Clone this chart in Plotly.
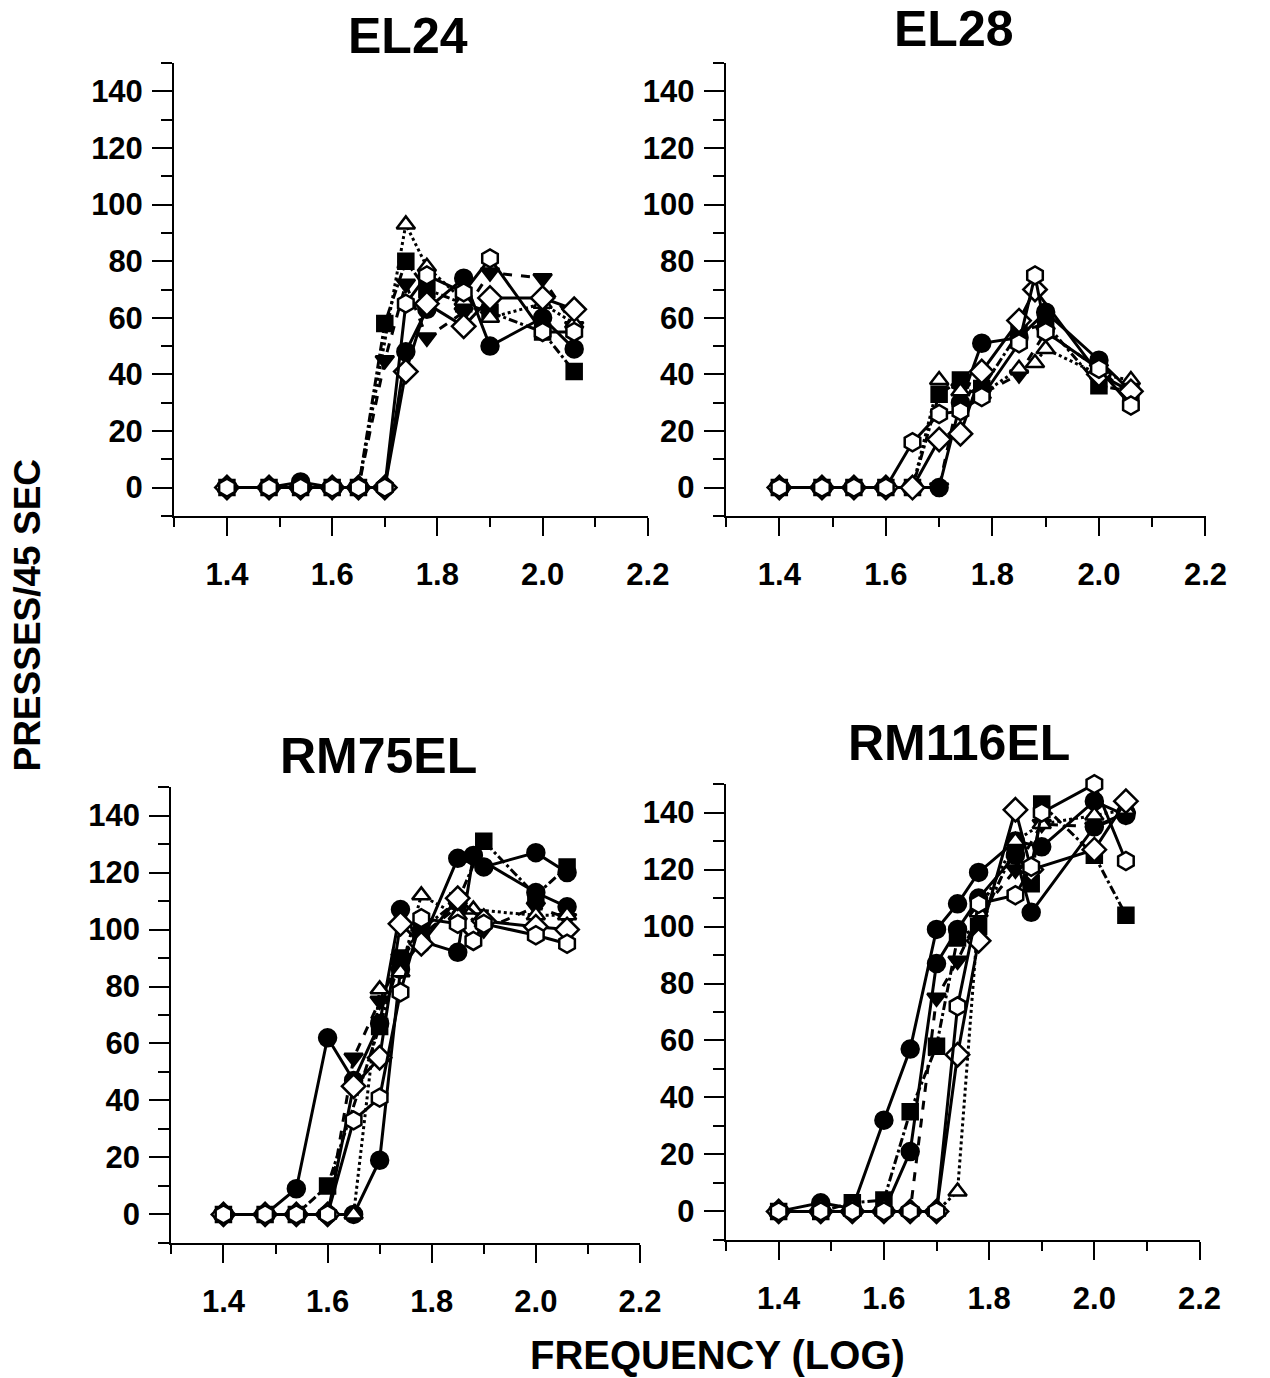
import plotly.graph_objects as go

# ---------------- data ----------------
FREQ_LOG = [1.40, 1.48, 1.54, 1.60, 1.65, 1.70, 1.74, 1.78, 1.85, 1.88, 1.90, 2.00, 2.06]

PANEL_TITLES = ["EL24", "EL28", "RM75EL", "RM116EL"]

# EL24
EL24_circle  = [0, 0, 2, 0, 0, 0, 48, 63, 74, None, 50, 60, 49]
EL24_square  = [0, 0, 0, 0, 0, 58, 80, 70, 65, None, 62, 55, 41]
EL24_tridown = [0, 0, 0, 0, 0, 45, 72, 53, 62, None, 76, 74, 57]
EL24_triup   = [0, 0, 0, 0, 0, None, 93, 78, 66, None, 60, 65, 58]
EL24_diamond = [0, 0, 0, 0, 0, 0, 41, 65, 57, None, 67, 67, 63]
EL24_hexagon = [0, 0, 0, 0, 0, 0, 65, 75, 69, None, 81, 55, 55]

# EL28
EL28_circle  = [0, 0, 0, 0, 0, 0, 30, 51, 53, None, 62, 45, 34]
EL28_square  = [0, 0, 0, 0, 0, 33, 38, 35, 55, None, 58, 36, 34]
EL28_tridown = [0, 0, 0, 0, 0, 0, 35, 33, 40, None, 55, 42, 32]
EL28_triup   = [0, 0, 0, 0, 0, 38, 34, 33, 42, 44, 49, 40, 38]
EL28_diamond = [0, 0, 0, 0, 0, 17, 19, 41, 59, 70, None, 40, 34]
EL28_hexagon = [0, 0, 0, 0, 16, 26, 27, 32, 51, 75, 55, 42, 29]

# RM75EL
RM75_circle  = [0, 0, 9, 62, 47, 67, 107, 95, 125, None, 122, 127, 120]
RM75_circle2 = [0, 0, 0, 0, 0, 19, 86, 96, 92, 126, None, 113, 108]
RM75_square  = [0, 0, 0, 10, None, 66, 90, 100, 110, None, 131, 112, 122]
RM75_tridown = [0, 0, 0, 0, 55, 75, 90, 98, 108, None, 100, 108, 104]
RM75_triup   = [0, 0, 0, 0, 0, 79, 85, 112, 105, 107, None, 105, 105]
RM75_diamond = [0, 0, 0, 0, 45, 55, 102, 95, 111, None, 103, 101, 100]
RM75_hexagon = [0, 0, 0, 0, 33, 41, 78, 104, 102, 96, 102, 98, 95]

# RM116EL
RM116_circle  = [0, 3, 1, 32, 57, 99, 108, 119, 130, None, 128, 144, 139]
RM116_circle2 = [0, 0, 0, 0, 21, 87, 99, 110, 125, 105, None, 135, 140]
RM116_square  = [0, 0, 3, 4, 35, 58, 96, 100, 128, 115, 143, 125, 104]
RM116_tridown = [0, 0, 0, 0, 0, 75, 88, 104, 120, None, 136, 135, 139]
RM116_triup   = [0, 0, 0, 0, 0, 0, 7, 105, 130, None, 136, 139, 141]
RM116_diamond = [0, 0, 0, 0, 0, 0, 55, 95, 141, 120, None, 127, 144]
RM116_hexagon = [0, 0, 0, 0, 0, 0, 72, 108, 111, 121, 140, 150, 123]

Y_TICKS = [0, 20, 40, 60, 80, 100, 120, 140]
X_TICKS = [1.4, 1.6, 1.8, 2.0, 2.2]

# ---------------- styles ----------------
STYLES = {
    "circle":  dict(symbol="circle", fill="black", dash="solid", size=17),
    "circle2": dict(symbol="circle", fill="black", dash="solid", size=17),
    "square":  dict(symbol="square", fill="black", dash="dashdot", size=15),
    "tridown": dict(symbol="triangle-down", fill="black", dash="dash", size=16),
    "triup":   dict(symbol="triangle-up", fill="white", dash="dot", size=16),
    "diamond": dict(symbol="diamond", fill="white", dash="solid", size=18),
    "hexagon": dict(symbol="hexagon", fill="white", dash="solid", size=18),
}

PANELS = [
    [("circle", EL24_circle), ("square", EL24_square), ("tridown", EL24_tridown),
     ("triup", EL24_triup), ("diamond", EL24_diamond), ("hexagon", EL24_hexagon)],
    [("circle", EL28_circle), ("square", EL28_square), ("tridown", EL28_tridown),
     ("triup", EL28_triup), ("diamond", EL28_diamond), ("hexagon", EL28_hexagon)],
    [("circle", RM75_circle), ("circle2", RM75_circle2), ("square", RM75_square),
     ("tridown", RM75_tridown), ("triup", RM75_triup), ("diamond", RM75_diamond),
     ("hexagon", RM75_hexagon)],
    [("circle", RM116_circle), ("circle2", RM116_circle2), ("square", RM116_square),
     ("tridown", RM116_tridown), ("triup", RM116_triup), ("diamond", RM116_diamond),
     ("hexagon", RM116_hexagon)],
]

W, H = 1270, 1378
# plot area boxes in pixels: (left, right, top, bottom)
BOXES = [(177, 659, 63, 516), (738, 1226, 63, 516),
         (174, 651, 787, 1243), (738, 1220, 784, 1240)]
TITLE_POS = [(415, 36), (970, 29), (385, 756), (975, 743)]

FONT = "Liberation Sans, Arial, sans-serif"

fig = go.Figure()
for i, series in enumerate(PANELS):
    xa = "x" if i == 0 else f"x{i+1}"
    ya = "y" if i == 0 else f"y{i+1}"
    for key, vals in series:
        st = STYLES[key]
        fig.add_trace(go.Scatter(
            x=FREQ_LOG, y=vals, xaxis=xa, yaxis=ya, mode="lines+markers",
            connectgaps=True, showlegend=False, cliponaxis=False,
            line=dict(color="black", width=3, dash=st["dash"]),
            marker=dict(symbol=st["symbol"], size=st["size"], color=st["fill"],
                        line=dict(color="black", width=2.5)),
        ))

layout = dict(width=W, height=H, margin=dict(l=0, r=0, t=0, b=0),
              paper_bgcolor="white", plot_bgcolor="white", showlegend=False)

tickfont = dict(family=FONT, size=31, color="black", weight="bold")
for i, (l, r, t, b) in enumerate(BOXES):
    xn = "xaxis" if i == 0 else f"xaxis{i+1}"
    yn = "yaxis" if i == 0 else f"yaxis{i+1}"
    xa = "x" if i == 0 else f"x{i+1}"
    ya = "y" if i == 0 else f"y{i+1}"
    layout[xn] = dict(
        domain=[l / W, r / W], anchor=ya, range=[1.2995, 2.2005],
        tickmode="array", tickvals=X_TICKS, ticktext=[f"{v:.1f}" for v in X_TICKS],
        ticks="outside", ticklen=18, tickwidth=2, tickcolor="black",
        showline=True, linewidth=2, linecolor="black", showgrid=False, zeroline=False,
        tickfont=tickfont, ticklabelstandoff=12,
        minor=dict(tickmode="array", tickvals=[1.3, 1.5, 1.7, 1.9, 2.1],
                   ticks="outside", ticklen=9, tickwidth=2, tickcolor="black", showgrid=False),
    )
    layout[yn] = dict(
        domain=[1 - b / H, 1 - t / H], anchor=xa, range=[-10.05, 150.05],
        tickmode="array", tickvals=Y_TICKS, ticktext=[str(v) for v in Y_TICKS],
        ticks="outside", ticklen=20, tickwidth=2, tickcolor="black",
        showline=True, linewidth=2, linecolor="black", showgrid=False, zeroline=False,
        tickfont=tickfont, ticklabelstandoff=3,
        minor=dict(tickmode="array", tickvals=[-10, 10, 30, 50, 70, 90, 110, 130, 150],
                   ticks="outside", ticklen=11, tickwidth=2, tickcolor="black", showgrid=False),
    )

annotations = []
for (cx, cy), title in zip(TITLE_POS, PANEL_TITLES):
    annotations.append(dict(text=title, x=cx / W, y=1 - cy / H, xref="paper", yref="paper",
                            showarrow=False, xanchor="center", yanchor="middle",
                            font=dict(family=FONT, size=50, color="black", weight="bold")))
annotations.append(dict(text="PRESSES/45 SEC", x=28 / W, y=1 - 615 / H, xref="paper", yref="paper",
                        showarrow=False, textangle=-90, xanchor="center", yanchor="middle",
                        font=dict(family=FONT, size=37, color="black", weight="bold")))
annotations.append(dict(text="FREQUENCY (LOG)", x=730 / W, y=1 - 1355 / H, xref="paper", yref="paper",
                        showarrow=False, xanchor="center", yanchor="middle",
                        font=dict(family=FONT, size=40, color="black", weight="bold")))
layout["annotations"] = annotations
fig.update_layout(**layout)

fig.write_html("out.html")
